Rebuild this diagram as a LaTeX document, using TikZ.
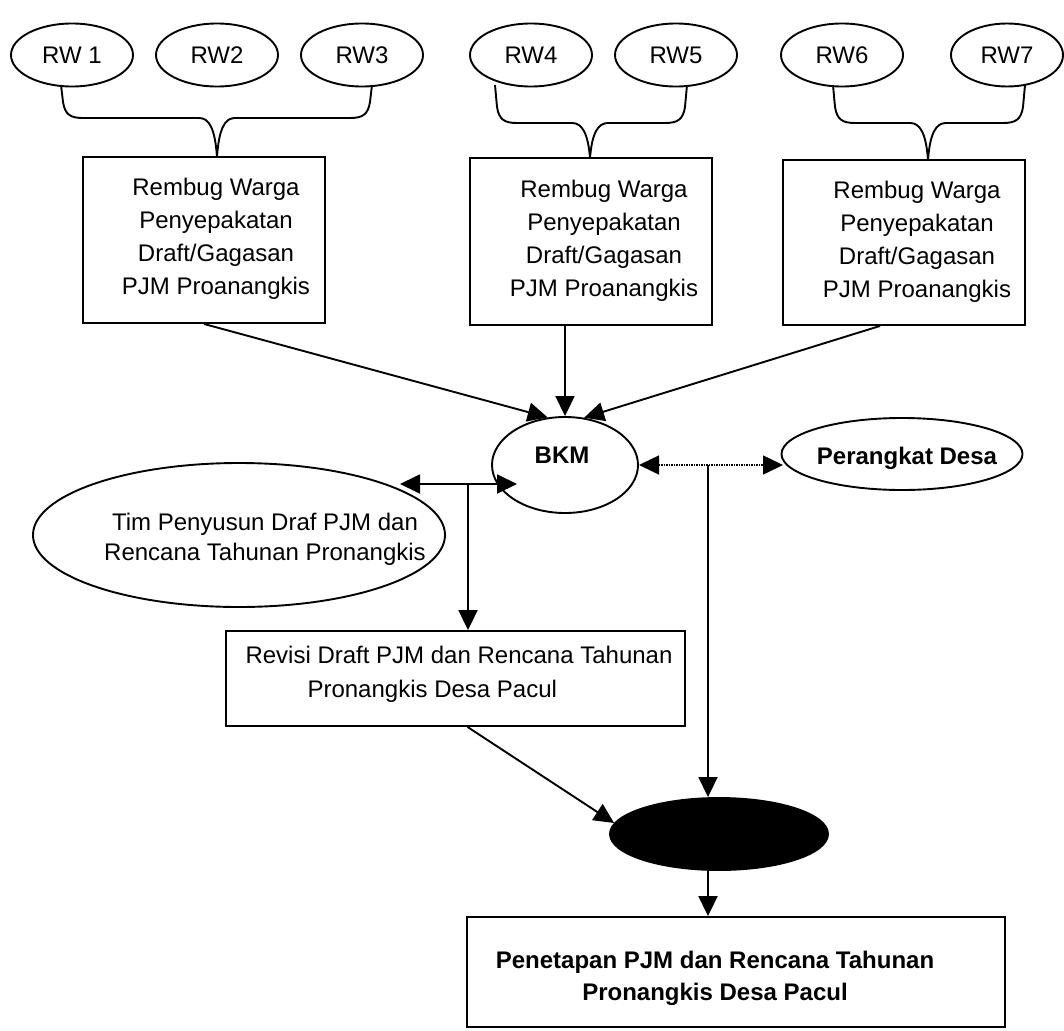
\documentclass[tikz,border=0pt]{standalone}
\usepackage{fontspec}
\setmainfont{Liberation Sans}
\usetikzlibrary{shapes.geometric,arrows.meta,calc}
\newcommand\mybrace[5]{%
  \draw (#1,85) -- (#1+2,#4-16) .. controls (#1+4,#4-3) and (#1+10,#4) .. (#1+22,#4)
    -- (#2-18,#4) .. controls (#2-8,#4) and (#2-2,#4+10) .. (#2,#5)
    .. controls (#2+2,#4+10) and (#2+8,#4) .. (#2+18,#4)
    -- (#3-22,#4) .. controls (#3-10,#4) and (#3-4,#4-3) .. (#3-2,#4-16) -- (#3,85);}
\begin{document}
\begin{tikzpicture}[x=1pt,y=-1pt,line width=1.9pt,
  rw/.style={draw,ellipse,minimum width=122pt,minimum height=63pt,inner sep=0pt,
    font=\fontsize{24}{28}\selectfont},
  boxr/.style={draw,rectangle,inner sep=0pt},
  oval/.style={draw,ellipse,inner sep=0pt},
  txt/.style={inner sep=0pt,align=center,font=\fontsize{24}{33}\selectfont},
  arr/.style={-{Triangle[length=20pt,width=19pt]}},
  arrboth/.style={{Triangle[length=20pt,width=19pt]}-{Triangle[length=20pt,width=19pt]}}]
\useasboundingbox (0,0) rectangle (1064,1030);

% top ellipses
\node[rw] (rw1) at (72,55) {RW 1};
\node[rw] (rw2) at (217,55) {RW2};
\node[rw] (rw3) at (362,55) {RW3};
\node[rw] (rw4) at (531,55) {RW4};
\node[rw] (rw5) at (676,55) {RW5};
\node[rw] (rw6) at (842,55) {RW6};
\node[rw,minimum width=112pt] (rw7) at (1007,55) {RW7};

% boxes
\node[boxr,minimum width=242pt,minimum height=166pt] (b1) at (204,240) {};
\node[boxr,minimum width=242pt,minimum height=167pt] (b2) at (591,241.5) {};
\node[boxr,minimum width=242pt,minimum height=165pt] (b3) at (904,242.5) {};
\node[txt] (b1t) at (216,238.5) {Rembug Warga\\Penyepakatan\\Draft/Gagasan\\PJM Proanangkis};
\node[txt] (b2t) at (604,241) {Rembug Warga\\Penyepakatan\\Draft/Gagasan\\PJM Proanangkis};
\node[txt] (b3t) at (917,242) {Rembug Warga\\Penyepakatan\\Draft/Gagasan\\PJM Proanangkis};

% braces
\mybrace{61}{217}{372}{118}{157}
\mybrace{495}{590}{687}{123}{158}
\mybrace{833}{928}{1025}{123}{160}

% BKM and Perangkat Desa
\node[oval,minimum width=146pt,minimum height=96pt] (bkm) at (565,465) {};
\node[inner sep=0pt,font=\bfseries\fontsize{24}{28}\selectfont] (bkmt) at (562,455) {BKM};
\node[oval,minimum width=241pt,minimum height=72pt] (per) at (902,454) {};
\node[inner sep=0pt,font=\bfseries\fontsize{24}{28}\selectfont] (pert) at (907,458) {Perangkat Desa};

% Tim Penyusun
\node[oval,minimum width=412pt,minimum height=144pt] (tim) at (239,535) {};
\node[txt,font=\fontsize{24}{30}\selectfont] (timt) at (265,539) {Tim Penyusun Draf PJM dan\\Rencana Tahunan Pronangkis};

% Revisi
\node[boxr,minimum width=459pt,minimum height=95pt] (rev) at (455.5,678.5) {};
\node[txt,align=left,font=\fontsize{24}{34}\selectfont] (revt) at (459,674)
  {Revisi Draft PJM dan Rencana Tahunan\\\hspace*{62pt}Pronangkis Desa Pacul};

% black ellipse
\node[oval,fill=black,minimum width=218pt,minimum height=72pt] (blk) at (719,834) {};

% Penetapan
\node[boxr,minimum width=538pt,minimum height=110pt] (pen) at (736,972) {};
\node[txt,font=\bfseries\fontsize{24}{32}\selectfont] (pent) at (715,978)
  {Penetapan PJM dan Rencana Tahunan\\Pronangkis Desa Pacul};

% connectors
\draw[arr] (b1.south) -- (bkm.110);
\draw[arr] (bkm |- b2.south) -- (bkm.north);
\draw[arr] ($(b3.south)+(-24,0)$) -- (bkm.68);

\coordinate (timtip) at (400,484);
\coordinate (bkmtip) at (517,484);
\coordinate (j1) at (468,484);
\draw[arrboth] (timtip) -- (bkmtip);
\draw[arr] (j1) -- (j1 |- rev.north);

\coordinate (dl) at (639,465);
\coordinate (dr) at (783,465);
\coordinate (j2) at (708,465);
\draw[arrboth,line width=1.5pt,dash pattern=on 1.5pt off 1pt] (dl) -- (dr);
\draw[arr] (j2) -- (j2 |- blk.north);

\draw[arr] ($(rev.south)+(12,0)$) -- (blk.174);
\draw[arr] (j2 |- blk.south) -- (j2 |- pen.north);
\end{tikzpicture}
\end{document}
